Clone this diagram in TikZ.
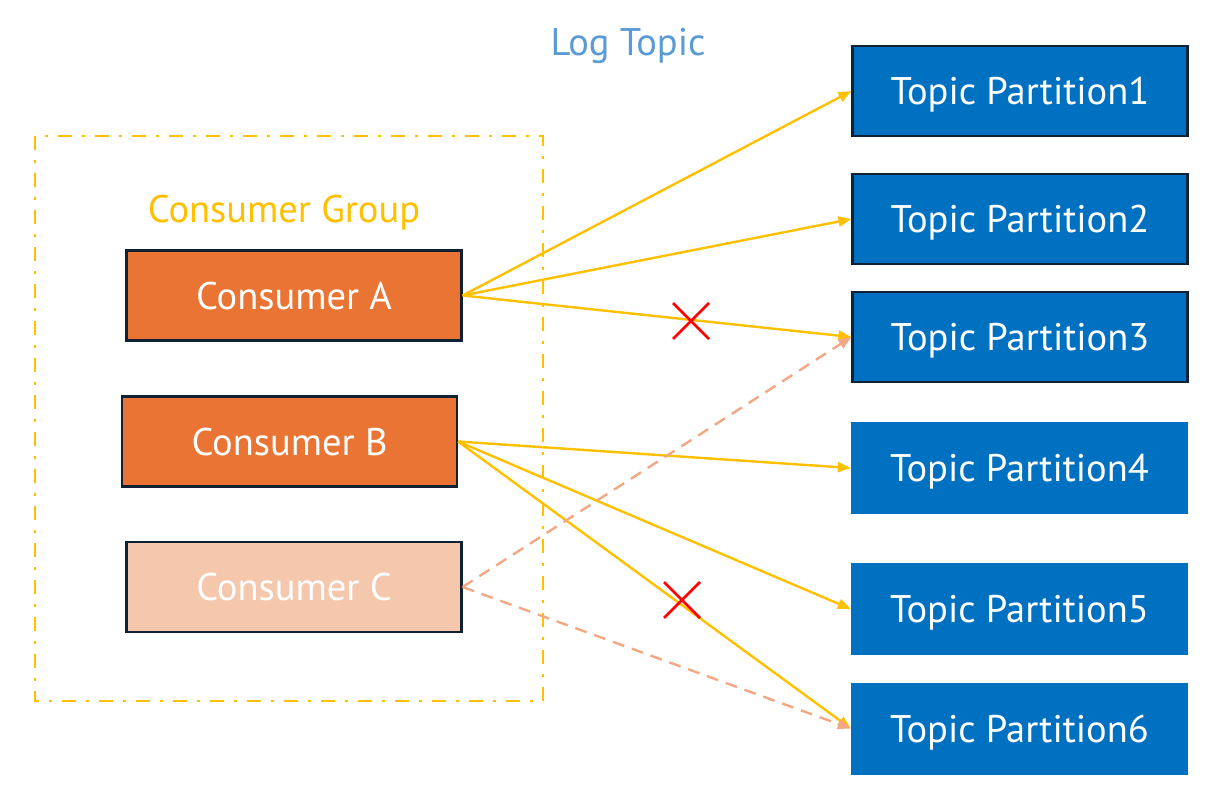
\documentclass[tikz,border=0pt]{standalone}
\usepackage{fontspec}
\setmainfont{PT Sans}
\usetikzlibrary{arrows.meta,calc}
\definecolor{cons}{HTML}{EA7433}
\definecolor{consc}{HTML}{F5C8AE}
\definecolor{bord}{HTML}{0F2233}
\definecolor{part}{HTML}{0070C0}
\definecolor{yel}{HTML}{FFC000}
\definecolor{sal}{HTML}{F2A884}
\definecolor{logb}{HTML}{5B9BD5}
\tikzset{
  x=1pt,y=-1pt,
  txt/.style={font=\fontsize{38.5}{42}\selectfont,text depth=0pt},
  cbox/.style={draw=bord,line width=2.2pt,fill=cons,text=white,txt,minimum width=335pt,minimum height=90pt,inner sep=0pt},
  pbox/.style={fill=part,text=white,txt,minimum width=337pt,minimum height=92pt,inner sep=0pt},
  pboxb/.style={pbox,draw=bord,line width=2.2pt,minimum width=335pt,minimum height=90pt},
  link/.style={yel,line width=2.4pt,-{Triangle[length=13pt,width=10pt]}},
  dlink/.style={sal,line width=2.4pt,dash pattern=on 12pt off 8pt,-{Triangle[length=13pt,width=10pt]}},
  cross/.style={red,line width=2.6pt},
}
\begin{document}
\begin{tikzpicture}
\useasboundingbox (0,0) rectangle (1220,797);
\draw[yel,line width=2.2pt,dash pattern=on 14pt off 10pt on 3pt off 10pt] (35,136) rectangle (543,701);
\node[text=logb,txt] (log) at (628,42) {Log Topic};
\node[text=yel,txt] (grp) at (284,209) {Consumer Group};
\node[cbox] (A) at (294,295.5) {Consumer A};
\node[cbox] (B) at (289.5,441.5) {Consumer B};
\node[cbox,fill=consc] (C) at (294,587) {Consumer C};
\node[pboxb] (P1) at (1020,91) {Topic Partition1};
\node[pboxb] (P2) at (1020,219) {Topic Partition2};
\node[pboxb] (P3) at (1020,337) {Topic Partition3};
\node[pbox] (P4) at (1019.5,468) {Topic Partition4};
\node[pbox] (P5) at (1019.5,609) {Topic Partition5};
\node[pbox] (P6) at (1019.5,728.5) {Topic Partition6};
\draw[link] (A.east) -- (P1.west);
\draw[link] (A.east) -- (P2.west);
\draw[link] (A.east) -- (P3.west);
\draw[link] (B.east) -- (P4.west);
\draw[link] (B.east) -- (P5.west);
\draw[link] (B.east) -- (P6.west);
\draw[dlink] (C.east) -- (P3.west);
\draw[dlink] (C.east) -- (P6.west);
\coordinate (x1) at (691,321);
\coordinate (x2) at (682,600);
\draw[cross] ($(x1)+(-18,-18)$) -- ($(x1)+(18,18)$) ($(x1)+(18,-18)$) -- ($(x1)+(-18,18)$);
\draw[cross] ($(x2)+(-18,-18)$) -- ($(x2)+(18,18)$) ($(x2)+(18,-18)$) -- ($(x2)+(-18,18)$);
\end{tikzpicture}
\end{document}
